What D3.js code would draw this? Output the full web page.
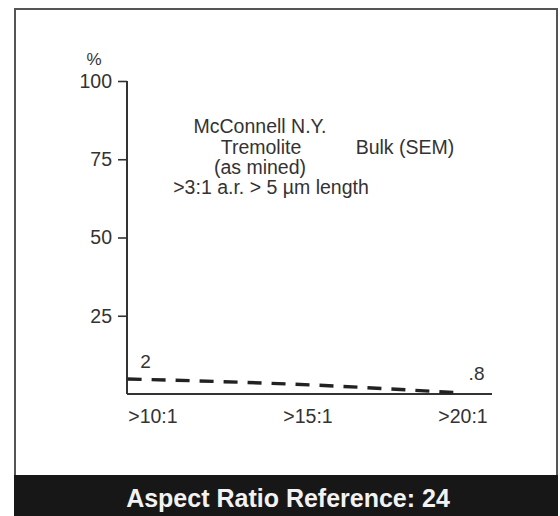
<!DOCTYPE html>
<html>
<head>
<meta charset="utf-8">
<script src="https://cdn.jsdelivr.net/npm/d3@7"></script>
<style>
  html, body { margin: 0; padding: 0; background: #ffffff; }
  svg { display: block; }
  text { font-family: "Liberation Sans", Arial, sans-serif; fill: #333; }
</style>
</head>
<body>
<svg id="chart" width="560" height="516"></svg>
<script>
// ---- data ----
const yTicks = [25, 50, 75, 100];
const xTicks = [10, 15, 20];
const xTickLabels = [">10:1", ">15:1", ">20:1"];
const seriesX = [9.2, 15.1, 20];
const seriesY = [4.8, 2.9, 0.3];
const valueLabels = ["2", ".8"];
const noteLines = ["McConnell N.Y.", "Tremolite", "(as mined)", ">3:1 a.r. > 5 µm length"];
const sideNote = "Bulk (SEM)";
const yUnit = "%";
const footerText = "Aspect Ratio Reference: 24";

const svg = d3.select("#chart");

// frame
svg.append("rect").attr("x", 15).attr("y", 9).attr("width", 542).attr("height", 520)
  .attr("fill", "#fff").attr("stroke", "#555").attr("stroke-width", 2);

// footer
svg.append("rect").attr("x", 14).attr("y", 475).attr("width", 544).attr("height", 41)
  .attr("fill", "#171717");
svg.append("text").attr("x", 288).attr("y", 507).attr("text-anchor", "middle")
  .style("font-size", "25px").style("font-weight", "bold").style("fill", "#f2f2f2")
  .text(footerText);

// scales
const x = d3.scaleLinear().domain([9.18, 20.95]).range([127, 492]);
const y = d3.scaleLinear().domain([0, 100]).range([394, 81]);

// y axis
const gy = svg.append("g").attr("transform", "translate(127,0)")
  .call(d3.axisLeft(y).tickValues(yTicks).tickSize(9).tickPadding(6));
gy.select(".domain").attr("d", `M0,${y(100)}V${y(0)}`).attr("stroke", "#333").attr("stroke-width", 2);
gy.selectAll(".tick line").attr("stroke", "#333").attr("stroke-width", 1.6);
gy.selectAll(".tick text").style("font-size", "19.5px").style("font-family", "Liberation Sans, Arial, sans-serif")
  .attr("fill", "#333");

// x axis
const gx = svg.append("g").attr("transform", `translate(0,${y(0)})`)
  .call(d3.axisBottom(x).tickValues(xTicks).tickSize(0).tickPadding(15)
    .tickFormat((d, i) => xTickLabels[i]));
gx.select(".domain").attr("d", `M${x.range()[0]},0H${x.range()[1]}`).attr("stroke", "#333").attr("stroke-width", 2);
gx.selectAll(".tick text").style("font-size", "19.5px").style("font-family", "Liberation Sans, Arial, sans-serif")
  .attr("fill", "#333");

// unit label
svg.append("text").attr("x", 94).attr("y", 65).attr("text-anchor", "middle")
  .style("font-size", "17px").text(yUnit);

// dashed series line
const line = d3.line().x(d => x(d[0])).y(d => y(d[1])).curve(d3.curveMonotoneX);
svg.append("path").datum(seriesX.map((v, i) => [v, seriesY[i]]))
  .attr("d", line).attr("fill", "none").attr("stroke", "#222")
  .attr("stroke-width", 3.4).attr("stroke-dasharray", "14,10");

// value labels
svg.append("text").attr("x", x(seriesX[0]) + 18).attr("y", 368).attr("text-anchor", "middle")
  .style("font-size", "19px").text(valueLabels[0]);
svg.append("text").attr("x", x(seriesX[seriesX.length - 1]) + 14).attr("y", 380).attr("text-anchor", "middle")
  .style("font-size", "19px").text(valueLabels[1]);

// notes
const noteX = [260, 261, 260, 271];
const noteY = [133, 154, 174, 194];
noteLines.forEach((t, i) => {
  svg.append("text").attr("x", noteX[i]).attr("y", noteY[i]).attr("text-anchor", "middle")
    .style("font-size", "19.5px").text(t);
});
svg.append("text").attr("x", 405).attr("y", 154).attr("text-anchor", "middle")
  .style("font-size", "19.5px").text(sideNote);
</script>
</body>
</html>
